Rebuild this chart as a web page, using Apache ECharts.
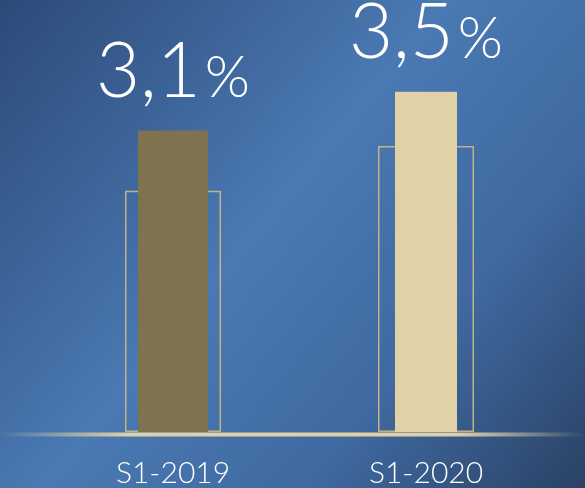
<!DOCTYPE html>
<html>
<head>
<meta charset="utf-8">
<script src="https://cdn.jsdelivr.net/npm/echarts@6/dist/echarts.min.js"></script>
<style>
  html, body { margin: 0; padding: 0; }
  #chart { width: 585px; height: 488px; }
</style>
</head>
<body>
<div id="chart"></div>
<script>
// data
const categories = ['S1-2019', 'S1-2020'];
const mainValues = [3.1, 3.5];        // filled bars (labelled)
const outlineValues = [2.48, 2.94];   // hollow frame behind each bar
const labelTexts = ['3,1', '3,5'];

const myChart = echarts.init(document.getElementById('chart'), null, { renderer: 'canvas' });

const font = 'Lato, "Open Sans", sans-serif';

// one hidden category axis per bar width so every bar stays centred in its band
const makeAxis = (show) => ({
  type: 'category',
  data: categories,
  position: 'bottom',
  show: show,
  axisLine: { show: false },
  axisTick: { show: false },
  axisLabel: {
    show: show,
    color: '#ffffff',
    fontFamily: font,
    fontSize: 30,
    fontWeight: 300,
    margin: 26
  }
});

const filled = (idx, color, width) => ({
  type: 'bar',
  xAxisIndex: idx + 1,
  barWidth: width,
  z: 3,
  itemStyle: { color: color },
  data: mainValues.map((v, i) => (i === idx ? v : '-')),
  label: {
    show: true,
    position: 'top',
    distance: 20,
    formatter: () => '{n|' + labelTexts[idx] + '}{p|%}',
    rich: {
      n: { color: '#fff', fontFamily: font, fontSize: 76, fontWeight: 300 },
      p: { color: '#fff', fontFamily: font, fontSize: 58, fontWeight: 300, padding: [12, 0, 0, 4] }
    }
  }
});

const option = {
  backgroundColor: {
    type: 'linear', x: 0, y: 0, x2: 1, y2: 1,
    colorStops: [
      { offset: 0, color: '#2c4a78' },
      { offset: 0.45, color: '#4a79b3' },
      { offset: 0.72, color: '#3f69a0' },
      { offset: 1, color: '#2a4265' }
    ]
  },
  animation: false,
  grid: { left: 46.5, right: 32.5, top: 43, bottom: 55 },
  xAxis: [makeAxis(true), makeAxis(false), makeAxis(false)],
  yAxis: { type: 'value', min: 0, max: 4, show: false, splitLine: { show: false } },
  graphic: [{
    type: 'rect',
    shape: { x: 0, y: 432.5, width: 585, height: 4 },
    z: 10,
    style: {
      fill: {
        type: 'linear', x: 0, y: 0, x2: 1, y2: 0,
        colorStops: [
          { offset: 0, color: 'rgba(224,208,165,0)' },
          { offset: 0.22, color: 'rgba(224,208,165,1)' },
          { offset: 0.78, color: 'rgba(224,208,165,1)' },
          { offset: 1, color: 'rgba(224,208,165,0)' }
        ]
      }
    }
  }],
  series: [
    {
      type: 'bar',
      xAxisIndex: 0,
      barWidth: 96,
      z: 2,
      itemStyle: { color: 'rgba(0,0,0,0)', borderColor: '#c2b285', borderWidth: 1.5 },
      data: outlineValues
    },
    filled(0, '#7f724f', 70),
    filled(1, '#e0d1a6', 62)
  ]
};

myChart.setOption(option);
</script>
</body>
</html>
